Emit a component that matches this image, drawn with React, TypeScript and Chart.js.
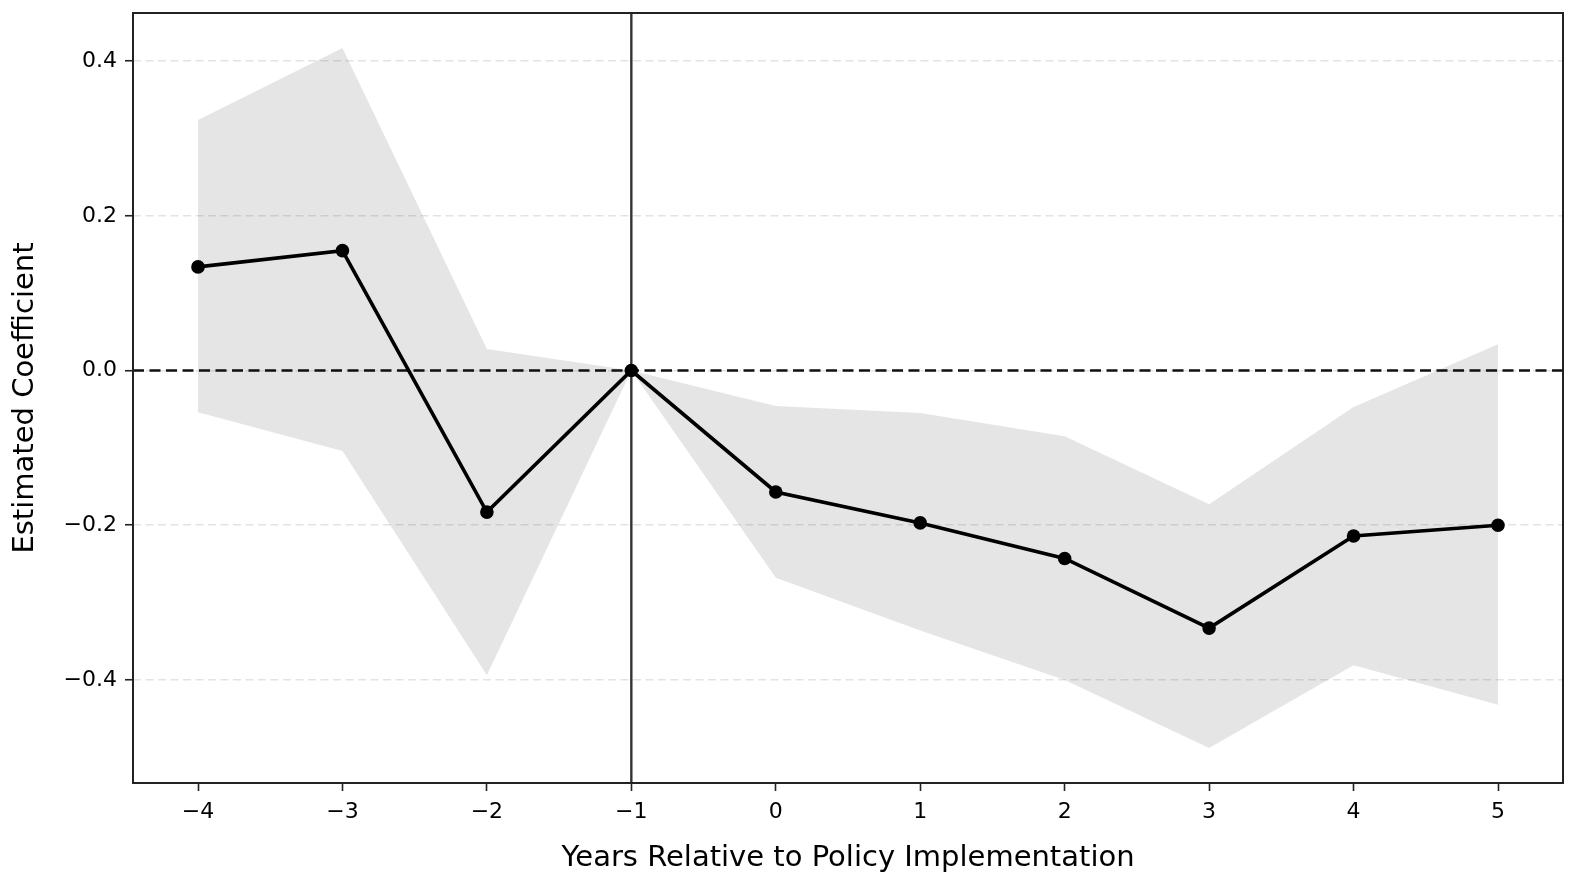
import React, { useEffect, useRef } from "react";
import { Chart, registerables } from "chart.js";

Chart.register(...registerables);

// event-study estimates
const years = [-4, -3, -2, -1, 0, 1, 2, 3, 4, 5];
const estimates = [0.134, 0.155, -0.183, 0, -0.157, -0.197, -0.243, -0.333, -0.214, -0.2];
const ciUpper = [0.324, 0.417, 0.028, 0, -0.046, -0.055, -0.085, -0.173, -0.047, 0.034];
const ciLower = [-0.054, -0.104, -0.394, 0, -0.268, -0.336, -0.4, -0.488, -0.381, -0.432];

const xTicks = [-4, -3, -2, -1, 0, 1, 2, 3, 4, 5];
const yTicks = [-0.4, -0.2, 0, 0.2, 0.4];

const referenceYear = -1;
const referenceValue = 0;

const FONT = "'DejaVu Sans', sans-serif";
const minus = (s: string) => s.replace("-", "\u2212");

// matplotlib-like 5% margins
const xPad = (Math.max(...years) - Math.min(...years)) * 0.05;
const yLo = Math.min(...ciLower);
const yHi = Math.max(...ciUpper);
const yPad = (yHi - yLo) * 0.05;

const toPoints = (vals: number[]) => years.map((x, i) => ({ x, y: vals[i] }));

const refLines = {
    id: "refLines",
    beforeDatasetDraw(chart: any, args: any) {
        if (args.index !== 2) return;
        const { ctx, chartArea: a, scales } = chart;
        const px = scales.x.getPixelForValue(referenceYear);
        const py = scales.y.getPixelForValue(referenceValue);
        ctx.save();
        ctx.beginPath();
        ctx.rect(a.left, a.top, a.right - a.left, a.bottom - a.top);
        ctx.clip();
        ctx.strokeStyle = "#111";
        ctx.lineWidth = 2.6;
        ctx.setLineDash([11, 5.5]);
        ctx.beginPath();
        ctx.moveTo(a.left, py);
        ctx.lineTo(a.right, py);
        ctx.stroke();
        ctx.setLineDash([]);
        ctx.strokeStyle = "#333";
        ctx.lineWidth = 2.4;
        ctx.beginPath();
        ctx.moveTo(px, a.top);
        ctx.lineTo(px, a.bottom);
        ctx.stroke();
        ctx.restore();
    },
    afterDatasetsDraw(chart: any) {
        const { ctx, chartArea: a } = chart;
        ctx.save();
        ctx.strokeStyle = "#222";
        ctx.lineWidth = 2;
        ctx.strokeRect(a.left, a.top, a.right - a.left, a.bottom - a.top);
        ctx.restore();
    },
};

const EventStudyChart = () => {
    const canvasRef = useRef<HTMLCanvasElement>(null);

    useEffect(() => {
        document.body.style.margin = "0";
        const ctx = canvasRef.current as HTMLCanvasElement;

        const config: any = {
            type: "line",
            data: {
                datasets: [
                    {
                        label: "upper",
                        data: toPoints(ciUpper),
                        borderWidth: 0,
                        pointRadius: 0,
                        backgroundColor: "rgba(0,0,0,0.1)",
                        fill: "+1",
                        tension: 0,
                    },
                    {
                        label: "lower",
                        data: toPoints(ciLower),
                        borderWidth: 0,
                        pointRadius: 0,
                        fill: false,
                        tension: 0,
                    },
                    {
                        label: "estimate",
                        data: toPoints(estimates),
                        borderColor: "#000",
                        backgroundColor: "#000",
                        borderWidth: 3.6,
                        pointRadius: 6.8,
                        pointBackgroundColor: "#000",
                        pointBorderWidth: 0,
                        fill: false,
                        tension: 0,
                    },
                ],
            },
            options: {
                animation: false,
                responsive: false,
                layout: { padding: { top: 13, right: 13, left: 0, bottom: 0 } },
                plugins: {
                    legend: { display: false },
                    tooltip: { enabled: false },
                },
                scales: {
                    x: {
                        type: "linear",
                        min: Math.min(...years) - xPad,
                        max: Math.max(...years) + xPad,
                        afterBuildTicks: (s: any) => {
                            s.ticks = xTicks.map((v) => ({ value: v }));
                        },
                        afterFit: (s: any) => {
                            s.height = 103;
                            s.paddingLeft = 0;
                            s.paddingRight = 0;
                        },
                        ticks: {
                            font: { family: FONT, size: 22 },
                            color: "#000",
                            padding: 8,
                            maxRotation: 0,
                            callback: (v: number) => minus(String(v)),
                        },
                        grid: {
                            drawOnChartArea: false,
                            drawTicks: true,
                            tickLength: 8,
                            tickWidth: 1.6,
                            tickColor: "#222",
                        },
                        border: { display: false },
                        title: {
                            display: true,
                            text: "Years Relative to Policy Implementation",
                            font: { family: FONT, size: 29 },
                            color: "#000",
                            padding: { top: 0, bottom: 10 },
                        },
                    },
                    y: {
                        type: "linear",
                        min: yLo - yPad,
                        max: yHi + yPad,
                        afterBuildTicks: (s: any) => {
                            s.ticks = yTicks.map((v) => ({ value: v }));
                        },
                        afterFit: (s: any) => {
                            s.width = 133;
                            s.paddingTop = 0;
                            s.paddingBottom = 0;
                        },
                        ticks: {
                            font: { family: FONT, size: 22 },
                            color: "#000",
                            padding: 8,
                            callback: (v: number) => minus(v.toFixed(1)),
                        },
                        grid: {
                            drawOnChartArea: true,
                            color: "rgba(0,0,0,0.11)",
                            lineWidth: 1.5,
                            drawTicks: true,
                            tickLength: 8,
                            tickWidth: 1.6,
                            tickColor: "#222",
                            tickBorderDash: [],
                        },
                        border: { display: false, dash: [8, 4.5] },
                        title: {
                            display: true,
                            text: "Estimated Coefficient",
                            font: { family: FONT, size: 29 },
                            color: "#000",
                            padding: { top: 8, bottom: 0 },
                        },
                    },
                },
            },
            plugins: [refLines],
        };

        const chart = new Chart(ctx, config);
        return () => {
            chart.destroy();
        };
    }, []);

    return (
        <div style={{ width: "1576px", height: "886px", background: "#fff" }}>
            <canvas ref={canvasRef} width={1576} height={886} style={{ display: "block", width: "1576px", height: "886px" }}></canvas>
        </div>
    );
};

export default function App() {
    return <EventStudyChart />;
}
